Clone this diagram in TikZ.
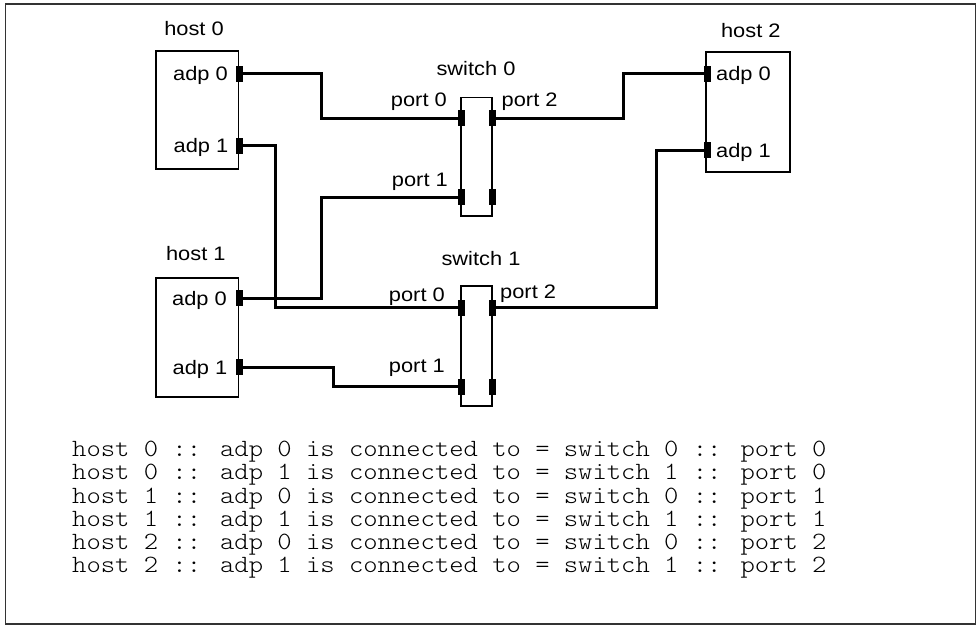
\documentclass[tikz,border=0pt]{standalone}
\usepackage{fontspec}
\setmainfont{Liberation Sans}[FakeStretch=1.12]
\newfontfamily\lmmono{lmmonolt10-regular.otf}[FakeStretch=1.1]
\begin{document}
\begin{tikzpicture}[x=1pt,y=-1pt,
  box/.style={draw, line width=1.3pt, inner sep=0pt, outer sep=0pt},
  portbox/.style={fill=black, draw=none, minimum width=7pt, minimum height=16pt, inner sep=0pt, outer sep=0pt},
  wire/.style={line width=3pt, line join=miter},
  lbl/.style={font=\fontsize{19.5}{20}\selectfont, inner sep=0pt},
  listing/.style={font=\lmmono\fontsize{24.8}{23.2}\selectfont, inner sep=0pt, anchor=base west}]
\useasboundingbox (0,0) rectangle (977,626);
\draw[line width=1.3pt, black!80] (5.5,4) rectangle (975.5,624);

% hosts and switches
\node[box, minimum width=82.5pt, minimum height=118pt] (host0) at (197.25,110) {};
\node[box, minimum width=82.5pt, minimum height=119pt] (host1) at (197.25,337.5) {};
\node[box, minimum width=84pt, minimum height=120pt] (host2) at (748,112) {};
\node[box, minimum width=31pt, minimum height=118.5pt] (sw0) at (476.5,156.75) {};
\node[box, minimum width=31pt, minimum height=120pt] (sw1) at (476.5,346) {};

% ports
\node[portbox] (h0a0) at (239.5,74) {};
\node[portbox] (h0a1) at (239.5,145.5) {};
\node[portbox] (h1a0) at (239.5,298) {};
\node[portbox] (h1a1) at (239.5,367) {};
\node[portbox] (h2a0) at (707,74) {};
\node[portbox] (h2a1) at (707,150) {};
\node[portbox] (s0p0) at (461.5,118) {};
\node[portbox] (s0p2) at (492,118) {};
\node[portbox] (s0p1) at (461.5,197) {};
\node[portbox] (s0p3) at (492,197) {};
\node[portbox] (s1p0) at (461.5,307.5) {};
\node[portbox] (s1p2) at (492,307.5) {};
\node[portbox] (s1p1) at (461.5,386.5) {};
\node[portbox] (s1p3) at (492,386.5) {};

% bend columns
\coordinate (k1) at (321.5,0);
\coordinate (k2) at (275.7,0);
\coordinate (k4) at (333.3,0);
\coordinate (k5) at (623.3,0);
\coordinate (k6) at (656,0);

% wires
\draw[wire] (h0a0.east) -- (h0a0.east -| k1) |- (s0p0.west);
\draw[wire] (h0a1.east) -- (h0a1.east -| k2) |- (s1p0.west);
\draw[wire] (h1a0.east) -- (h1a0.east -| k1) |- (s0p1.west);
\draw[wire] (h1a1.east) -- (h1a1.east -| k4) |- (s1p1.west);
\draw[wire] (h2a0.west) -- (h2a0.west -| k5) |- (s0p2.east);
\draw[wire] (h2a1.west) -- (h2a1.west -| k6) |- (s1p2.east);

% labels
\node[lbl, anchor=base] (lh0) at (194,36) {host 0};
\node[lbl, anchor=base] (lh1) at (195.8,260.7) {host 1};
\node[lbl, anchor=base] (lh2) at (750.8,37.3) {host 2};
\node[lbl, anchor=base east] (lh0a0) at (228,81) {adp 0};
\node[lbl, anchor=base east] (lh0a1) at (228.5,152.5) {adp 1};
\node[lbl, anchor=base east] (lh1a0) at (227,305) {adp 0};
\node[lbl, anchor=base east] (lh1a1) at (227.5,374) {adp 1};
\node[lbl, anchor=base west] (lh2a0) at (716,81) {adp 0};
\node[lbl, anchor=base west] (lh2a1) at (716,157) {adp 1};
\node[lbl, anchor=base] (lsw0) at (476,75) {switch 0};
\node[lbl, anchor=base east] (ls0p0) at (447,106.7) {port 0};
\node[lbl, anchor=base west] (ls0p2) at (501.5,106.7) {port 2};
\node[lbl, anchor=base east] (ls0p1) at (448,186) {port 1};
\node[lbl, anchor=base] (lsw1) at (481,265) {switch 1};
\node[lbl, anchor=base east] (ls1p0) at (445,301.7) {port 0};
\node[lbl, anchor=base west] (ls1p2) at (500,298.3) {port 2};
\node[lbl, anchor=base east] (ls1p1) at (445,372.7) {port 1};

% listing
\node[listing] (t1) at (72,456.7) {host 0 :: adp 0 is connected to = switch 0 :: port 0};
\node[listing] (t2) at (72,479.9) {host 0 :: adp 1 is connected to = switch 1 :: port 0};
\node[listing] (t3) at (72,503.1) {host 1 :: adp 0 is connected to = switch 0 :: port 1};
\node[listing] (t4) at (72,526.3) {host 1 :: adp 1 is connected to = switch 1 :: port 1};
\node[listing] (t5) at (72,549.5) {host 2 :: adp 0 is connected to = switch 0 :: port 2};
\node[listing] (t6) at (72,572.7) {host 2 :: adp 1 is connected to = switch 1 :: port 2};
\end{tikzpicture}
\end{document}
